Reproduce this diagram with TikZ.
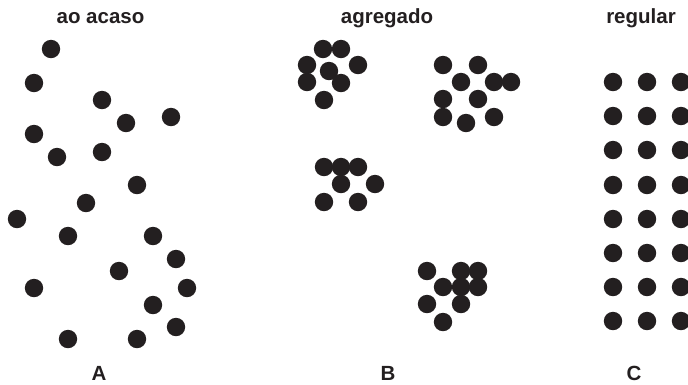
\documentclass[tikz,border=0pt]{standalone}
\usepackage{fontspec}
\setmainfont{Liberation Sans}
\definecolor{ink}{HTML}{231F20}
\begin{document}
\begin{tikzpicture}[x=1pt,y=-1pt,
  dot/.style={fill=ink},
  heading/.style={anchor=base,text=ink,inner sep=0pt,font=\fontsize{20.5}{24}\selectfont\bfseries}]
\useasboundingbox (0,0) rectangle (688,384);
\def\r{9.2}
% panel A: random pattern
\foreach \x/\y in {51/49,34/83,102/100,126/123,171/117,34/134,57/157,102/152,137/185,
  86/203,17/219,68/236,153/236,176/259,119/271,34/288,187/288,153/305,176/327,68/339,137/339}
  \fill[dot] (\x,\y) circle (\r);
% panel B: aggregated pattern
\foreach \x/\y in {323/49,341/49,307/65,358/65,307/82,341/83,329/71,324/100,
  443/65,478/65,461/82,494/82,511/82,443/99,478/99,443/117,466/123,494/117,
  324/167,341/167,358/167,341/184,375/184,324/202,358/202,
  427/271,461/271,478/271,443/287,461/287,478/287,427/304,461/304,443/322}
  \fill[dot] (\x,\y) circle (\r);
% panel C: regular grid
\foreach \x in {613,647,681}
  \foreach \y in {82,116,150,185,219,253,287,321}
    \fill[dot] (\x,\y) circle (\r);
% headings and panel letters
\node[heading] (hA) at (100.5,23) {ao acaso};
\node[heading] (hB) at (387,23) {agregado};
\node[heading] (hC) at (641,23) {regular};
\node[heading] (lA) at (99,380) {A};
\node[heading] (lB) at (388,380) {B};
\node[heading] (lC) at (634,380) {C};
\end{tikzpicture}
\end{document}
